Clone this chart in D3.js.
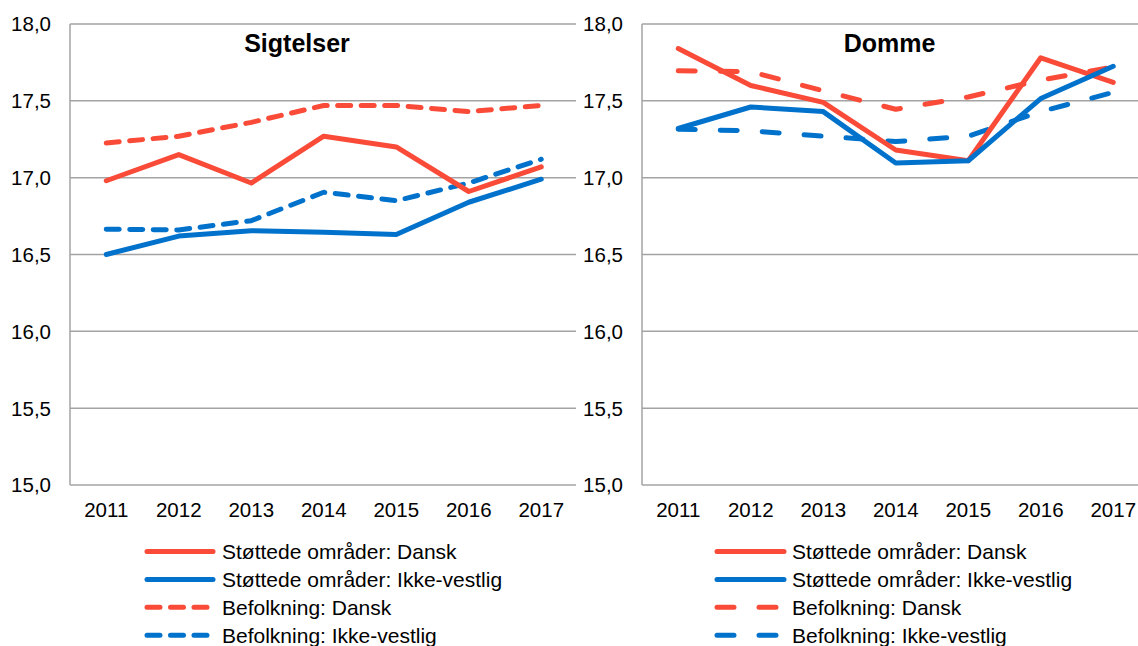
<!DOCTYPE html>
<html>
<head>
<meta charset="utf-8">
<script src="https://cdn.jsdelivr.net/npm/d3@7"></script>
<style>
	body { margin: 0; background: #fff; }
	svg { font-family: "Liberation Sans", Arial, sans-serif; }
</style>
</head>
<body>
<div id="chart"></div>
<script>
var WIDTH = 1138;
var HEIGHT = 646;

var years = ["2011", "2012", "2013", "2014", "2015", "2016", "2017"];
var yTicks = [15.0, 15.5, 16.0, 16.5, 17.0, 17.5, 18.0];
var seriesNames = [
	"Støttede områder: Dansk",
	"Støttede områder: Ikke-vestlig",
	"Befolkning: Dansk",
	"Befolkning: Ikke-vestlig"
];

// Sigtelser
var sigtStottetDansk = [16.98, 17.15, 16.965, 17.27, 17.20, 16.91, 17.07];
var sigtStottetIkkeVestlig = [16.50, 16.62, 16.655, 16.645, 16.63, 16.84, 16.99];
var sigtBefolkDansk = [17.225, 17.27, 17.36, 17.47, 17.47, 17.43, 17.47];
var sigtBefolkIkkeVestlig = [16.665, 16.66, 16.72, 16.905, 16.85, 16.965, 17.12];

// Domme
var dommeStottetDansk = [17.84, 17.60, 17.49, 17.18, 17.11, 17.78, 17.62];
var dommeStottetIkkeVestlig = [17.32, 17.46, 17.43, 17.095, 17.11, 17.515, 17.725];
var dommeBefolkDansk = [17.695, 17.69, 17.565, 17.445, 17.525, 17.635, 17.72];
var dommeBefolkIkkeVestlig = [17.315, 17.305, 17.27, 17.235, 17.27, 17.43, 17.555];

var RED = "#FA4B38";
var BLUE = "#0072CC";
var GRID = "#A3A3A3";

var svg = d3.select("#chart").append("svg")
	.attr("width", WIDTH).attr("height", HEIGHT);

function drawPanel(opts) {
	var x = d3.scaleBand().domain(years).range([opts.left, opts.left + 7 * 72.5]);
	var y = d3.scaleLinear().domain([15, 18]).range([485, 24]);
	var g = svg.append("g");

	// gridlines
	g.selectAll(".grid")
		.data(yTicks)
		.enter().append("line")
		.attr("x1", opts.left).attr("x2", opts.gridEnd)
		.attr("y1", d => y(d)).attr("y2", d => y(d))
		.attr("stroke", GRID).attr("stroke-width", 1.5);

	g.append("line")
		.attr("x1", opts.left).attr("x2", opts.left)
		.attr("y1", y(18)).attr("y2", y(15))
		.attr("stroke", GRID).attr("stroke-width", 1.5);

	// y tick labels
	g.selectAll(".ylab")
		.data(yTicks)
		.enter().append("text")
		.attr("x", opts.left - 19)
		.attr("y", d => y(d))
		.attr("dy", "0.36em")
		.attr("text-anchor", "end")
		.style("font-size", "20.5px")
		.text(d => d3.format(".1f")(d).replace(".", ","));

	// x labels
	g.selectAll(".xlab")
		.data(years)
		.enter().append("text")
		.attr("x", d => x(d) + x.bandwidth() / 2)
		.attr("y", 517)
		.attr("text-anchor", "middle")
		.style("font-size", "20.5px")
		.text(d => d);

	// title
	g.append("text")
		.attr("x", opts.titleX).attr("y", 52)
		.attr("text-anchor", "middle")
		.style("font-size", "25px")
		.style("font-weight", "bold")
		.text(opts.title);

	var line = d3.line()
		.x((d, i) => x(years[i]) + x.bandwidth() / 2)
		.y(d => y(d));

	var styles = [
		{ color: RED, dash: null },
		{ color: BLUE, dash: null },
		{ color: RED, dash: opts.dash },
		{ color: BLUE, dash: opts.dash }
	];

	// draw dashed first, solid on top
	[2, 3, 0, 1].forEach(k => {
		g.append("path")
			.datum(opts.series[k])
			.attr("d", line)
			.attr("fill", "none")
			.attr("stroke", styles[k].color)
			.attr("stroke-width", 5)
			.attr("stroke-linecap", "round")
			.attr("stroke-linejoin", "round")
			.attr("stroke-dasharray", styles[k].dash);
	});

	// legend
	var leg = g.selectAll(".legend")
		.data(seriesNames)
		.enter().append("g")
		.attr("transform", (d, i) => `translate(0, ${551.5 + i * 27.9})`);

	leg.append("line")
		.attr("x1", opts.legX).attr("x2", (d, i) => i < 2 ? opts.legX + opts.legLen : opts.legX + opts.legDashLen)
		.attr("y1", 0).attr("y2", 0)
		.attr("stroke", (d, i) => styles[i].color)
		.attr("stroke-width", 5)
		.attr("stroke-linecap", "round")
		.attr("stroke-dasharray", (d, i) => styles[i].dash);

	leg.append("text")
		.attr("x", opts.legText)
		.attr("y", 0)
		.attr("dy", "0.36em")
		.style("font-size", "21px")
		.text(d => d);
}

drawPanel({
	left: 70, gridEnd: 576, title: "Sigtelser", titleX: 297,
	dash: "13,10.5",
	series: [sigtStottetDansk, sigtStottetIkkeVestlig, sigtBefolkDansk, sigtBefolkIkkeVestlig],
	legX: 147, legLen: 66, legDashLen: 61, legText: 222
});

drawPanel({
	left: 642, gridEnd: 1138, title: "Domme", titleX: 889.5,
	dash: "17,25",
	series: [dommeStottetDansk, dommeStottetIkkeVestlig, dommeBefolkDansk, dommeBefolkIkkeVestlig],
	legX: 717, legLen: 67, legDashLen: 60, legText: 792
});
</script>
</body>
</html>
